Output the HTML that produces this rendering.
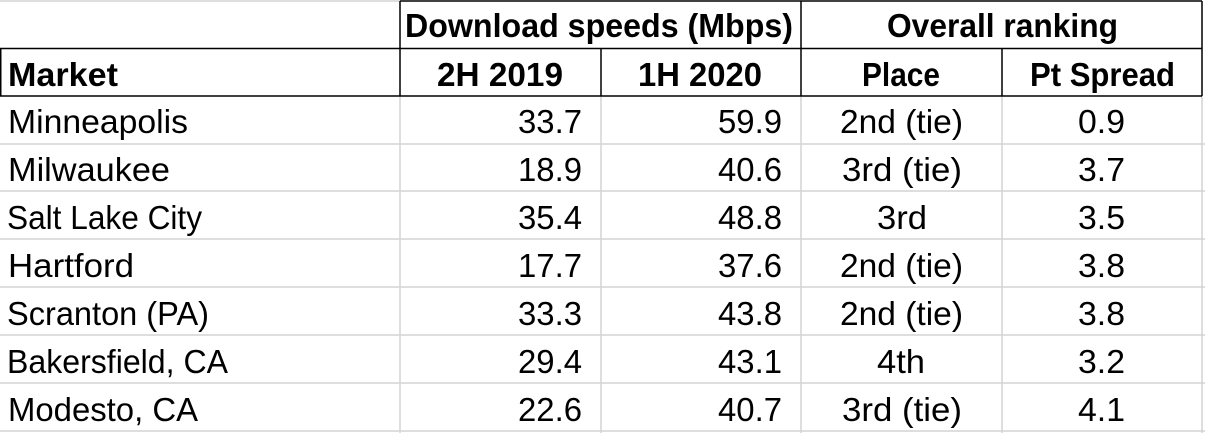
<!DOCTYPE html>
<html><head><meta charset="utf-8"><style>
html,body{margin:0;padding:0;background:#fff;}
svg{display:block;font-family:"Liberation Sans",sans-serif;}
text{font-size:33px;fill:#000;}
.b{font-weight:bold;}
</style></head><body>
<svg width="1205" height="433" viewBox="0 0 1205 433">
<rect width="1205" height="433" fill="#fff"/>
<g stroke="#d4d4d4" stroke-width="1.5">
<line x1="0" y1="1" x2="400" y2="1"/>
<line x1="0" y1="144" x2="1205" y2="144"/>
<line x1="0" y1="191" x2="1205" y2="191"/>
<line x1="0" y1="239" x2="1205" y2="239"/>
<line x1="0" y1="287" x2="1205" y2="287"/>
<line x1="0" y1="335" x2="1205" y2="335"/>
<line x1="0" y1="383" x2="1205" y2="383"/>
<line x1="0" y1="431" x2="1205" y2="431"/>
<line x1="400" y1="96" x2="400" y2="433"/>
<line x1="601" y1="96" x2="601" y2="433"/>
<line x1="801" y1="96" x2="801" y2="433"/>
<line x1="1002" y1="96" x2="1002" y2="433"/>
<line x1="1202" y1="96" x2="1202" y2="433"/>
</g>
<g stroke="#000" stroke-width="1.5" fill="none">
<line x1="400" y1="1" x2="1202" y2="1"/>
<line x1="0" y1="48.5" x2="1202" y2="48.5"/>
<line x1="0" y1="96" x2="1202" y2="96"/>
<line x1="0.75" y1="48" x2="0.75" y2="96"/>
<line x1="400" y1="1" x2="400" y2="96"/>
<line x1="601" y1="48" x2="601" y2="96"/>
<line x1="801" y1="1" x2="801" y2="96"/>
<line x1="1002" y1="48" x2="1002" y2="96"/>
<line x1="1202" y1="1" x2="1202" y2="96"/>
</g>
<text class="b" x="405" y="37" textLength="388" lengthAdjust="spacingAndGlyphs">Download speeds (Mbps)</text>
<text class="b" x="887" y="37" textLength="231" lengthAdjust="spacingAndGlyphs">Overall ranking</text>
<text class="b" x="8" y="86" textLength="110" lengthAdjust="spacingAndGlyphs">Market</text>
<text class="b" x="437" y="86" textLength="126" lengthAdjust="spacingAndGlyphs">2H 2019</text>
<text class="b" x="638" y="86" textLength="124" lengthAdjust="spacingAndGlyphs">1H 2020</text>
<text class="b" x="862" y="86" textLength="78" lengthAdjust="spacingAndGlyphs">Place</text>
<text class="b" x="1030" y="86" textLength="145" lengthAdjust="spacingAndGlyphs">Pt Spread</text>
<g>
<text x="8" y="133" textLength="180" lengthAdjust="spacingAndGlyphs">Minneapolis</text>
<text x="8" y="181" textLength="162" lengthAdjust="spacingAndGlyphs">Milwaukee</text>
<text x="7" y="229" textLength="195" lengthAdjust="spacingAndGlyphs">Salt Lake City</text>
<text x="8" y="277" textLength="126" lengthAdjust="spacingAndGlyphs">Hartford</text>
<text x="7" y="325" textLength="202" lengthAdjust="spacingAndGlyphs">Scranton (PA)</text>
<text x="7" y="373" textLength="221" lengthAdjust="spacingAndGlyphs">Bakersfield, CA</text>
<text x="8" y="421" textLength="190" lengthAdjust="spacingAndGlyphs">Modesto, CA</text>
</g>
<g>
<text x="518" y="133" textLength="64" lengthAdjust="spacingAndGlyphs">33.7</text>
<text x="518" y="181" textLength="64" lengthAdjust="spacingAndGlyphs">18.9</text>
<text x="518" y="229" textLength="64" lengthAdjust="spacingAndGlyphs">35.4</text>
<text x="518" y="277" textLength="64" lengthAdjust="spacingAndGlyphs">17.7</text>
<text x="518" y="325" textLength="64" lengthAdjust="spacingAndGlyphs">33.3</text>
<text x="518" y="373" textLength="64" lengthAdjust="spacingAndGlyphs">29.4</text>
<text x="518" y="421" textLength="64" lengthAdjust="spacingAndGlyphs">22.6</text>
<text x="718" y="133" textLength="64" lengthAdjust="spacingAndGlyphs">59.9</text>
<text x="718" y="181" textLength="64" lengthAdjust="spacingAndGlyphs">40.6</text>
<text x="718" y="229" textLength="64" lengthAdjust="spacingAndGlyphs">48.8</text>
<text x="718" y="277" textLength="64" lengthAdjust="spacingAndGlyphs">37.6</text>
<text x="718" y="325" textLength="64" lengthAdjust="spacingAndGlyphs">43.8</text>
<text x="718" y="373" textLength="64" lengthAdjust="spacingAndGlyphs">43.1</text>
<text x="718" y="421" textLength="64" lengthAdjust="spacingAndGlyphs">40.7</text>
</g>
<g>
<text x="840" y="133" textLength="123" lengthAdjust="spacingAndGlyphs">2nd (tie)</text>
<text x="842" y="181" textLength="120" lengthAdjust="spacingAndGlyphs">3rd (tie)</text>
<text x="877" y="229" textLength="50" lengthAdjust="spacingAndGlyphs">3rd</text>
<text x="840" y="277" textLength="123" lengthAdjust="spacingAndGlyphs">2nd (tie)</text>
<text x="840" y="325" textLength="123" lengthAdjust="spacingAndGlyphs">2nd (tie)</text>
<text x="877" y="373" textLength="48" lengthAdjust="spacingAndGlyphs">4th</text>
<text x="842" y="421" textLength="120" lengthAdjust="spacingAndGlyphs">3rd (tie)</text>
</g>
<g>
<text x="1078" y="133" textLength="47" lengthAdjust="spacingAndGlyphs">0.9</text>
<text x="1078" y="181" textLength="47" lengthAdjust="spacingAndGlyphs">3.7</text>
<text x="1078" y="229" textLength="47" lengthAdjust="spacingAndGlyphs">3.5</text>
<text x="1078" y="277" textLength="47" lengthAdjust="spacingAndGlyphs">3.8</text>
<text x="1078" y="325" textLength="47" lengthAdjust="spacingAndGlyphs">3.8</text>
<text x="1078" y="373" textLength="47" lengthAdjust="spacingAndGlyphs">3.2</text>
<text x="1078" y="421" textLength="47" lengthAdjust="spacingAndGlyphs">4.1</text>
</g>
</svg>
</body></html>
